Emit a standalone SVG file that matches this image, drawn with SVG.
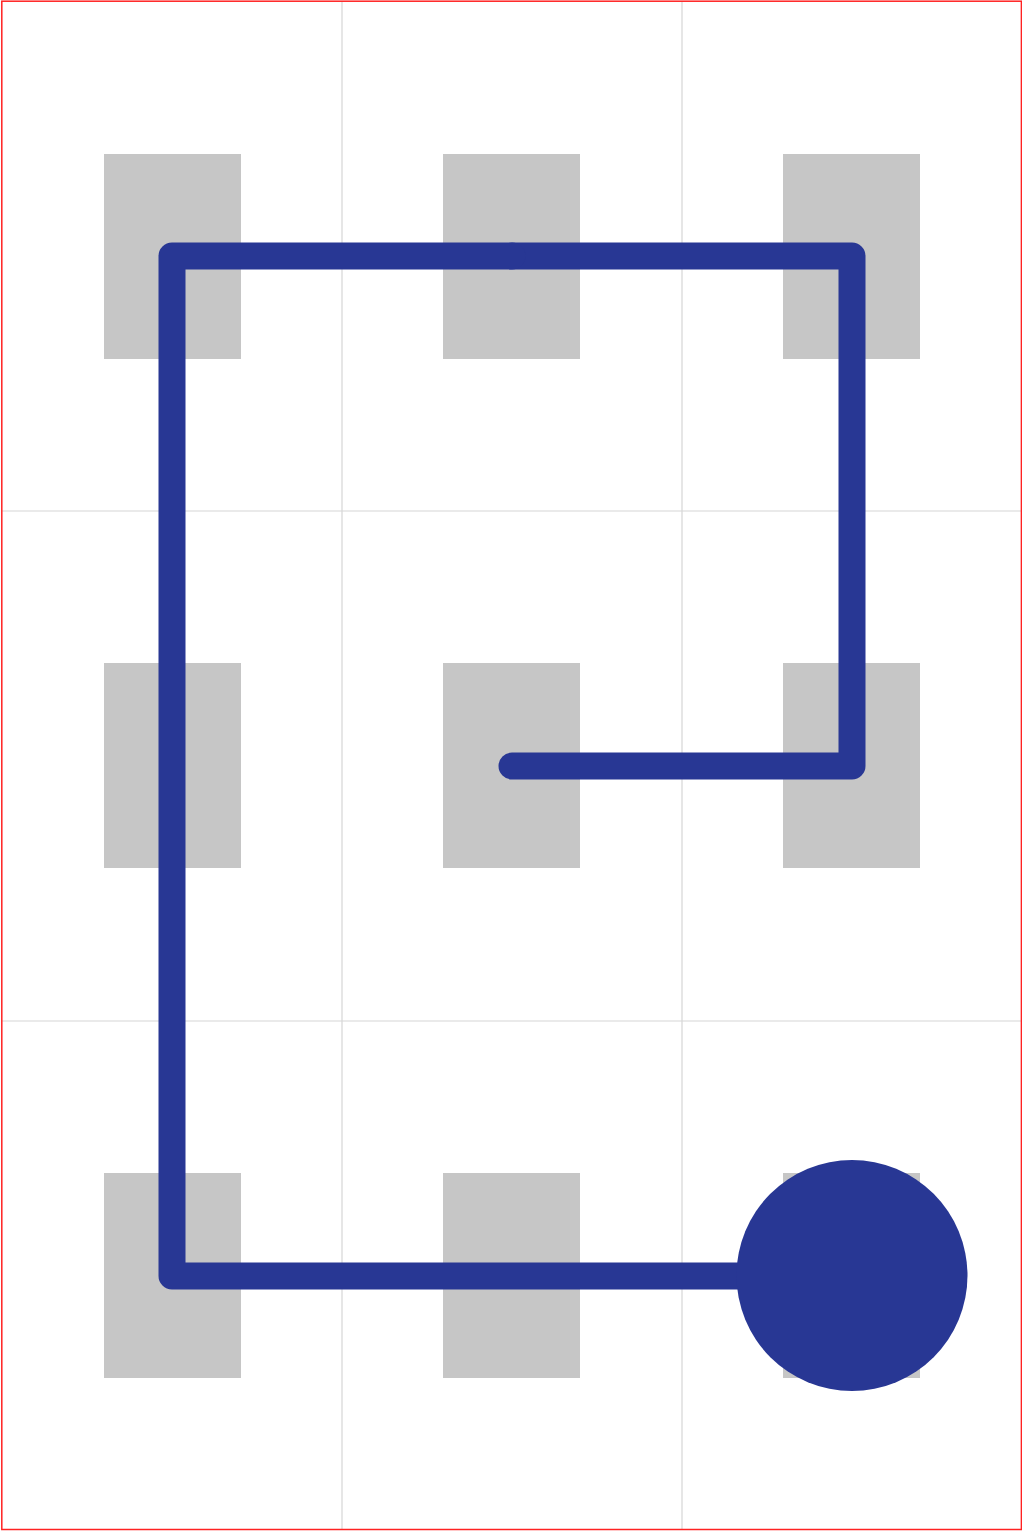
<svg xmlns="http://www.w3.org/2000/svg" width="1022" height="1531" viewBox="0 0 1022 1531">
<style>
.grid{stroke:#d6d6d6;stroke-width:1.2;fill:none}
.cell{fill:#c6c6c6}
.path{stroke:#283794;stroke-width:27;fill:none;stroke-linecap:round;stroke-linejoin:round}
.dot{fill:#283794}
</style>
<rect x="0" y="0" width="1022" height="1531" fill="#ffffff"/>
<g id="grid">
<line class="grid" x1="342" y1="1" x2="342" y2="1529"/>
<line class="grid" x1="682" y1="1" x2="682" y2="1529"/>
<line class="grid" x1="2" y1="511" x2="1021" y2="511"/>
<line class="grid" x1="2" y1="1021" x2="1021" y2="1021"/>
</g>
<g id="cell-1-1"><rect class="cell" x="104" y="154" width="137" height="205"/></g>
<g id="cell-1-2"><rect class="cell" x="443" y="154" width="137" height="205"/></g>
<g id="cell-1-3"><rect class="cell" x="783" y="154" width="137" height="205"/></g>
<g id="cell-2-1"><rect class="cell" x="104" y="663" width="137" height="205"/></g>
<g id="cell-2-2"><rect class="cell" x="443" y="663" width="137" height="205"/></g>
<g id="cell-2-3"><rect class="cell" x="783" y="663" width="137" height="205"/></g>
<g id="cell-3-1"><rect class="cell" x="104" y="1173" width="137" height="205"/></g>
<g id="cell-3-2"><rect class="cell" x="443" y="1173" width="137" height="205"/></g>
<g id="cell-3-3"><rect class="cell" x="783" y="1173" width="137" height="205"/></g>
<g id="connectors">
<path class="path" d="M512,766 L852,766 L852,256 L512,256"/>
<path class="path" d="M512,256 L172,256 L172,1276 L852,1276"/>
</g>
<g id="end"><circle class="dot" cx="852" cy="1275.5" r="115.5"/></g>
<rect x="1.8" y="1.2" width="1019.6" height="1528.3" fill="none" stroke="#ff2222" stroke-width="1.5"/>
</svg>
